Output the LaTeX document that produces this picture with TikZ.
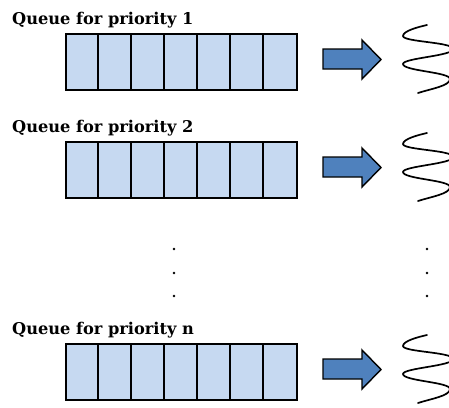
\documentclass[tikz,border=0pt]{standalone}
\usepackage{fontspec}
\newfontfamily\labfont{DejaVu Serif}
\usetikzlibrary{calc}
\definecolor{cellblue}{HTML}{C6D9F1}
\definecolor{arrowblue}{HTML}{4F81BD}
\tikzset{
  qlabel/.style={anchor=base west, inner sep=0pt, font=\labfont\fontsize{16.2}{19}\selectfont\bfseries},
  qbox/.style={draw=black, line width=1.6pt, fill=cellblue, minimum width=231pt, minimum height=56pt, inner sep=0pt, anchor=north west},
  qcell/.style={draw=black, line width=1.6pt},
  blockarrow/.style={fill=arrowblue, draw=black, line width=1.4pt, line join=miter},
  wave/.style={draw=black, line width=1.7pt, line cap=round},
  vdot/.style={circle, fill=black, inner sep=0pt, minimum size=2.6pt}
}
% one priority level: label, seven-slot queue, block arrow and worker squiggle
\newcommand{\prioqueue}[3]{%
  \begin{scope}[yshift=-#1pt]
    \node[qlabel] (lab#2) at (12,24) {Queue for priority #3};
    \node[qbox] (q#2) at (65,33) {};
    \foreach \k in {1,...,6} {
      \draw[qcell] ($(q#2.north west)+(33*\k,0)$) -- ($(q#2.south west)+(33*\k,0)$);
    }
    \draw[blockarrow] (323,49) -- (362,49) -- (362,40) -- (381,59.5) -- (362,79) -- (362,69) -- (323,69) -- cycle;
    \draw[wave] (427,25) .. controls (418,27) and (403,31) .. (403,36)
      .. controls (403,42) and (453,42) .. (453,49)
      .. controls (453,56) and (403,58) .. (403,64)
      .. controls (403,71) and (450,72) .. (450,79)
      .. controls (450,86) and (430,89) .. (418,93);
  \end{scope}%
}
\begin{document}
\begin{tikzpicture}[x=1pt,y=-1pt]
  \useasboundingbox (0,0) rectangle (449,407);
  \clip (0,0) rectangle (449,407);
  \prioqueue{0}{1}{1}
  \prioqueue{108}{2}{2}
  \prioqueue{310}{n}{n}
  % vertical ellipses between level 2 and level n
  \foreach \y [count=\i] in {249,273,296} {
    \node[vdot] (ld\i) at (174,\y) {};
    \node[vdot] (rd\i) at (427,\y) {};
  }
\end{tikzpicture}
\end{document}
